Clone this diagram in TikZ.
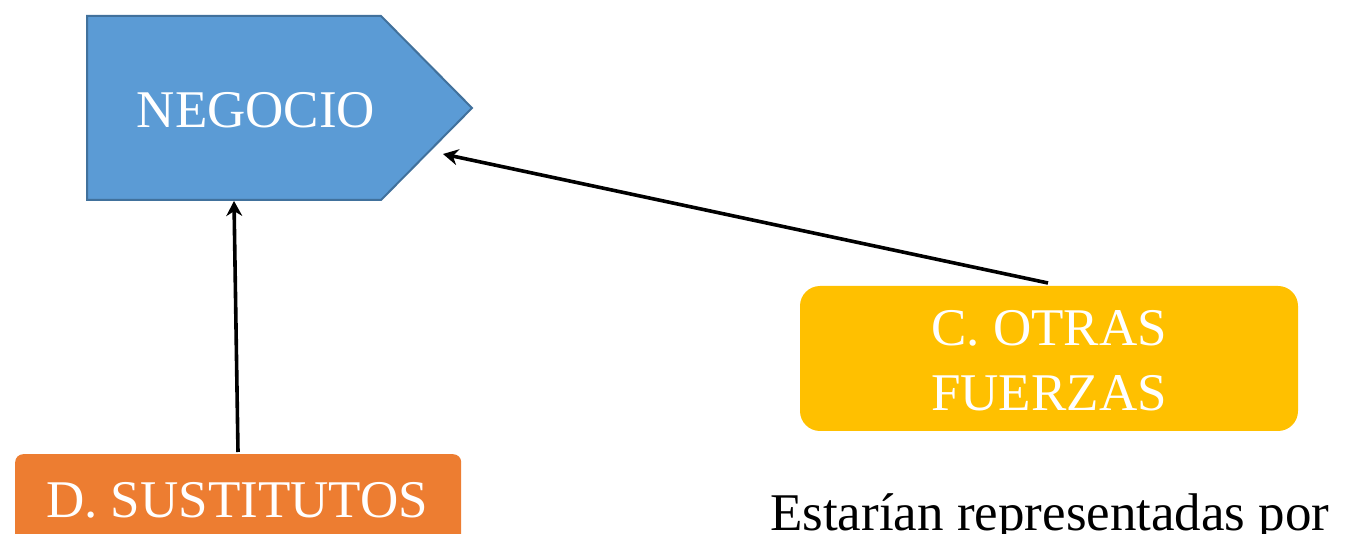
\documentclass[tikz,border=0pt]{standalone}
\usepackage{fontspec}
\setmainfont{Liberation Serif}
\usetikzlibrary{arrows.meta}
\definecolor{negfill}{HTML}{5B9BD5}
\definecolor{negline}{HTML}{41719C}
\definecolor{sustfill}{HTML}{ED7D31}
\definecolor{otrafill}{HTML}{FFC000}
\tikzset{
  bigtext/.style={font=\fontsize{53}{64}\selectfont, inner sep=0pt},
  whitetext/.style={bigtext, text=white},
  link/.style={line width=3.6pt, -{Stealth[length=15pt,width=16pt]}},
}
\begin{document}
\begin{tikzpicture}[x=1pt,y=-1pt]
  \useasboundingbox (0,0) rectangle (1355,534);
  \clip (0,0) rectangle (1355,534);
  % business block: pentagon pointing right
  \draw[fill=negfill, draw=negline, line width=2pt]
    (87,16) -- (381,16) -- (472,108) -- (381,200) -- (87,200) -- cycle;
  \node[whitetext, anchor=base] (negocio) at (256,128) {NEGOCIO};
  \coordinate (negbottom) at (234,201);
  \coordinate (negside) at (443,154);
  % substitutes box
  \node[fill=sustfill, rounded corners=8pt, anchor=north west,
        minimum width=446pt, minimum height=130pt, inner sep=0pt] (sust) at (15,454) {};
  \node[whitetext, anchor=base] (susttext) at (237,517) {D. SUSTITUTOS};
  \coordinate (sustout) at (238,452);
  % other forces box
  \node[fill=otrafill, rounded corners=20pt, minimum width=498pt,
        minimum height=145pt, inner sep=0pt] (otras) at (1049,358.5) {};
  \node[whitetext, anchor=base] (otras1) at (1049,346) {C. OTRAS};
  \node[whitetext, anchor=base] (otras2) at (1049,410) {FUERZAS};
  \coordinate (otrasout) at (1048,283);
  % caption line
  \node[bigtext, anchor=base west] (caption) at (770,530) {Estarían representadas por};
  % connectors
  \draw[link] (sustout) -- (negbottom);
  \draw[link] (otrasout) -- (negside);
\end{tikzpicture}
\end{document}
